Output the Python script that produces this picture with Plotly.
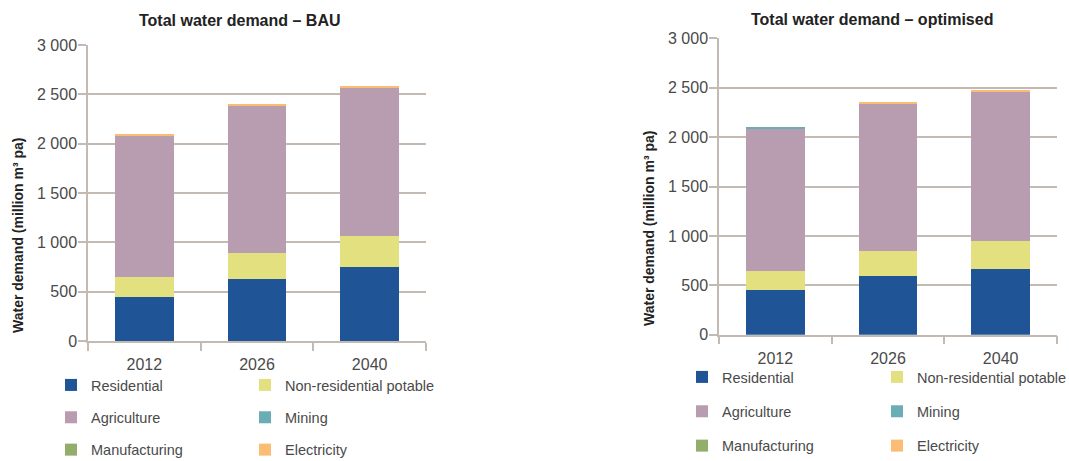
import plotly.graph_objects as go

# Planning years and demand sectors
years = ["2012", "2026", "2040"]
sectors = ["Residential", "Non-residential potable", "Agriculture",
           "Mining", "Manufacturing", "Electricity"]

# Water demand, million m³ per annum — business as usual
bau_residential = [450, 630, 745]
bau_nonres = [200, 262, 320]
bau_agriculture = [1437, 1490, 1508]
bau_mining = [0, 0, 0]
bau_manufacturing = [0, 0, 0]
bau_electricity = [10, 10, 10]

# Water demand, million m³ per annum — optimised scenario
opt_residential = [452, 594, 665]
opt_nonres = [193, 253, 283]
opt_agriculture = [1437, 1485, 1509]
opt_mining = [10, 7, 0]
opt_manufacturing = [0, 0, 0]
opt_electricity = [0, 6, 10]

y_ticks = [0, 500, 1000, 1500, 2000, 2500, 3000]
y_tick_text = ["0", "500", "1 000", "1 500", "2 000", "2 500", "3 000"]

colors = ["#1f5597", "#e3e17f", "#b89caf", "#6aadb5", "#93ad6a", "#fbbd74"]

bau = [bau_residential, bau_nonres, bau_agriculture,
       bau_mining, bau_manufacturing, bau_electricity]
opt = [opt_residential, opt_nonres, opt_agriculture,
       opt_mining, opt_manufacturing, opt_electricity]

W, H = 1069, 461
FONT = "Liberation Sans, Arial, sans-serif"
GRID = "#c3bbb3"
TEXT = "#4a4a4a"

fig = go.Figure()

# two legend columns per chart:
# col 1 = Residential, Agriculture, Manufacturing; col 2 = the others
left_legends = ["legend", "legend2", "legend", "legend2", "legend", "legend2"]
right_legends = ["legend3", "legend4", "legend3", "legend4", "legend3", "legend4"]

for i, name in enumerate(sectors):
    fig.add_trace(go.Bar(
        x=years, y=bau[i], name=name, marker=dict(color=colors[i], line=dict(width=0)),
        xaxis="x", yaxis="y", legend=left_legends[i], legendgroup="L" + name,
        hoverinfo="skip"))
for i, name in enumerate(sectors):
    fig.add_trace(go.Bar(
        x=years, y=opt[i], name=name, marker=dict(color=colors[i], line=dict(width=0)),
        xaxis="x2", yaxis="y2", legend=right_legends[i], legendgroup="R" + name,
        hoverinfo="skip"))


def px_x(p):
    return p / W


def px_y(p):
    return 1 - p / H


xaxis_common = dict(
    type="category", tickson="boundaries", ticks="outside", ticklen=8,
    tickcolor=GRID, tickwidth=1.5, showline=True, linecolor=GRID, linewidth=1.5,
    showgrid=False, tickfont=dict(family=FONT, size=16, color=TEXT),
    ticklabelstandoff=8, fixedrange=True, automargin=False,
)
yaxis_common = dict(
    range=[0, 3000], tickvals=y_ticks, ticktext=y_tick_text, ticks="outside",
    ticklen=8, tickcolor=GRID, tickwidth=1.5, showline=True, linecolor=GRID,
    linewidth=1.5, showgrid=True, gridcolor=GRID, gridwidth=1.5, zeroline=False,
    tickfont=dict(family=FONT, size=16, color=TEXT), ticklabelstandoff=-2,
    fixedrange=True, automargin=False,
)

legend_common = dict(
    orientation="v", bgcolor="rgba(0,0,0,0)", borderwidth=0, itemwidth=30,
    font=dict(family=FONT, size=14.5, color=TEXT),
    itemclick=False, itemdoubleclick=False, yanchor="top", xanchor="left",
)

fig.update_layout(
    width=W, height=H,
    margin=dict(l=0, r=0, t=0, b=0, autoexpand=False),
    paper_bgcolor="white", plot_bgcolor="white",
    barmode="stack", bargap=0.48,
    xaxis=dict(domain=[px_x(88), px_x(426)], anchor="y", **xaxis_common),
    yaxis=dict(domain=[px_y(341), px_y(45)], anchor="x", **yaxis_common),
    xaxis2=dict(domain=[px_x(719), px_x(1057)], anchor="y2", **xaxis_common),
    yaxis2=dict(domain=[px_y(334.7), px_y(38.3)], anchor="x2", **yaxis_common),
    legend=dict(x=px_x(51), y=px_y(369), tracegroupgap=10.5, **legend_common),
    legend2=dict(x=px_x(245), y=px_y(369), tracegroupgap=10.5, **legend_common),
    legend3=dict(x=px_x(682), y=px_y(361), tracegroupgap=12.5, **legend_common),
    legend4=dict(x=px_x(877), y=px_y(361), tracegroupgap=12.5, **legend_common),
    showlegend=True,
)

title_font = dict(family=FONT, size=16, color="#222222")
axis_title_font = dict(family=FONT, size=14, color="#222222")
common_ann = dict(xref="paper", yref="paper", showarrow=False,
                  xanchor="center", yanchor="middle")
fig.add_annotation(text="<b>Total water demand – BAU</b>", x=px_x(240), y=px_y(20),
                   font=title_font, **common_ann)
fig.add_annotation(text="<b>Total water demand – optimised</b>", x=px_x(872), y=px_y(19),
                   font=title_font, **common_ann)
fig.add_annotation(text="<b>Water demand (million m³ pa)</b>", x=px_x(18), y=px_y(235),
                   textangle=-90, font=axis_title_font, **common_ann)
fig.add_annotation(text="<b>Water demand (million m³ pa)</b>", x=px_x(649), y=px_y(228),
                   textangle=-90, font=axis_title_font, **common_ann)

fig.write_html("out.html")
